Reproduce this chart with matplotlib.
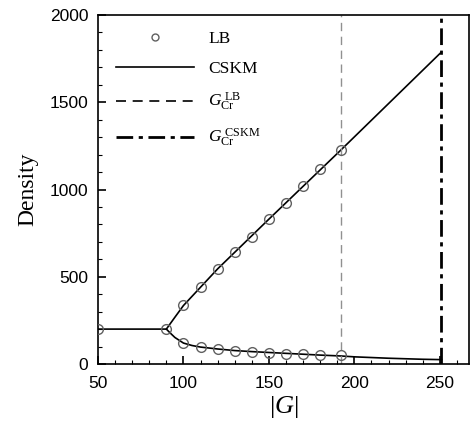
import numpy as np
import matplotlib
matplotlib.use('Agg')
import matplotlib.pyplot as plt
from matplotlib.ticker import MultipleLocator
from matplotlib.lines import Line2D

# LB simulation points (upper and lower branch)
lb_x_up = [50, 90, 100, 110, 120, 130, 140, 150, 160, 170, 180, 192]
lb_y_up = [200, 200, 338, 440, 545, 640, 730, 830, 921, 1020, 1116, 1226]
lb_x_low = [100, 110, 120, 130, 140, 150, 160, 170, 180, 192]
lb_y_low = [122, 97, 85, 72, 68, 64, 59, 55, 52, 50]

# CSKM curves
cskm_x_up = [50, 90, 95, 100, 120, 150, 192, 251]
cskm_y_up = [200, 200, 268, 335, 545, 830, 1225, 1788]
cskm_x_low = [90, 92, 95, 100, 105, 110, 120, 130, 140, 150, 160, 170, 180, 192, 200, 220, 240, 251]
cskm_y_low = [200, 180, 152, 120, 106, 97, 86, 77, 71, 66, 61, 56, 51, 46, 41, 33, 27, 25]

# critical values
g_cr_lb = 192
g_cr_cskm = 251

plt.rcParams['mathtext.fontset'] = 'custom'
plt.rcParams['mathtext.rm'] = 'Liberation Serif'
plt.rcParams['mathtext.it'] = 'Liberation Serif:italic'

fig = plt.figure(figsize=(4.7, 4.3), dpi=100)
ax = fig.add_axes([0.2085, 0.1535, 0.789, 0.8116])

ax.plot(lb_x_up, lb_y_up, 'o', mfc='none', mec='#606060', ms=7, mew=1.0, zorder=3)
ax.plot(lb_x_low, lb_y_low, 'o', mfc='none', mec='#606060', ms=7, mew=1.0, zorder=3)
ax.plot(cskm_x_up, cskm_y_up, '-', color='black', lw=1.2)
ax.plot(cskm_x_low, cskm_y_low, '-', color='black', lw=1.2)
ax.axvline(g_cr_lb, color='#909090', lw=1.0, linestyle=(0, (6, 4)))
ax.axvline(g_cr_cskm, color='black', lw=2.0, linestyle=(0, (6, 2, 1.5, 2)))

ax.set_xlim(50, 267)
ax.set_ylim(0, 2000)
ax.xaxis.set_major_locator(MultipleLocator(50))
ax.xaxis.set_minor_locator(MultipleLocator(10))
ax.yaxis.set_major_locator(MultipleLocator(500))
ax.yaxis.set_minor_locator(MultipleLocator(100))
ax.tick_params(which='major', direction='in', length=6, width=1.2, labelsize=12.5)
ax.tick_params(axis='x', which='major', pad=9)
ax.tick_params(axis='y', which='major', pad=7)
ax.tick_params(which='minor', direction='in', length=3, width=0.8)
for lab in ax.get_xticklabels() + ax.get_yticklabels():
    lab.set_family('Liberation Sans')
for s in ax.spines.values():
    s.set_linewidth(1.2)

ax.set_xlabel(r'$|G|$', fontsize=19, family='Liberation Serif', labelpad=2)
ax.set_ylabel('Density', fontsize=17, family='Liberation Serif', labelpad=8)

# legend handles (the legend draws the dashed line in black)
handles = [
    Line2D([], [], marker='o', ls='none', mfc='none', mec='#606060', ms=5, mew=1.0),
    Line2D([], [], color='black', lw=1.2),
    Line2D([], [], color='black', lw=1.2, ls=(0, (6, 4))),
    Line2D([], [], color='black', lw=2.0, ls=(0, (6, 2, 1.5, 2))),
]
labels = ['LB', 'CSKM', r'$G_{\rm Cr}^{\ \rm LB}$', r'$G_{\rm Cr}^{\ \rm CSKM}$']
ax.legend(handles, labels, loc='upper left', frameon=False, handlelength=4.5,
          prop={'family': 'Liberation Serif', 'size': 12.5}, labelspacing=0.8,
          borderaxespad=0.0, bbox_to_anchor=(0.03, 0.975), handletextpad=0.8)

fig.savefig('out.png', dpi=100)
